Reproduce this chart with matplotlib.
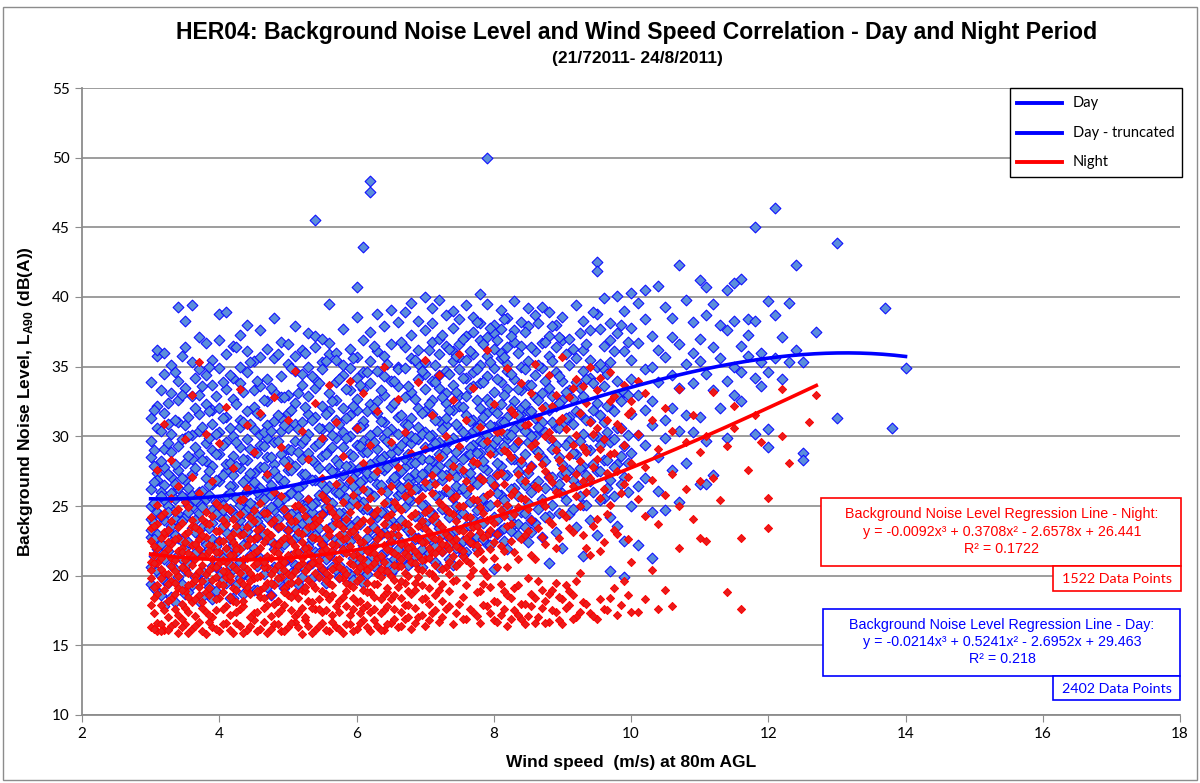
import numpy as np
import matplotlib.pyplot as plt
from matplotlib.patches import Rectangle
from matplotlib.lines import Line2D

plt.rcParams['mathtext.fontset'] = 'custom'
plt.rcParams['mathtext.bf'] = 'Liberation Sans:bold'
plt.rcParams['mathtext.rm'] = 'Liberation Sans:bold'

# wind speed (m/s) followed by the L90 readings at that speed
day_columns = [
    [3.0, 24.1, 28.5, 31.3, 20.6, 22.8, 26.2, 33.9, 19.4, 25.0, 29.7, 23.3],
    [3.1, 35.8, 21.9, 27.4, 24.6, 30.6, 18.9, 32.2, 23.0, 26.9, 20.3, 36.2],
    [3.2, 29.1, 25.4, 22.1, 34.5, 19.7, 27.8, 31.7, 24.0, 21.2, 36.0, 26.5, 17.8],
    [3.3, 23.6, 30.2, 33.1, 20.8, 27.1, 25.9, 22.4, 28.9, 18.5, 35.1, 24.8],
    [3.4, 39.3, 26.3, 31.0, 21.5, 24.4, 29.3, 19.9, 34.0, 22.7, 27.6, 32.6, 23.9],
    [3.5, 38.3, 22.0, 28.1, 25.6, 30.8, 20.4, 33.5, 26.9, 24.2, 18.7, 36.4, 29.9],
    [3.6, 39.4, 24.9, 27.3, 21.1, 32.9, 30.1, 19.3, 25.8, 23.4, 35.3, 28.4],
    [3.7, 26.0, 31.6, 22.9, 34.8, 20.1, 28.8, 24.5, 37.1, 18.2, 30.4, 25.2, 33.0],
    [3.8, 36.7, 23.7, 29.5, 21.7, 27.0, 32.3, 19.6, 25.5, 34.4, 22.3, 28.2],
    [3.9, 33.7, 24.7, 30.9, 20.7, 26.6, 35.5, 22.6, 29.0, 18.3, 27.9, 31.9, 23.8],
    [4.0, 38.8, 25.3, 28.7, 21.4, 32.0, 24.3, 34.9, 20.0, 30.3, 26.8, 22.5, 36.9],
    [4.1, 38.9, 27.5, 23.1, 31.4, 19.5, 29.6, 25.7, 33.4, 21.8, 35.9, 24.1, 28.0],
    [4.2, 26.4, 34.2, 22.2, 30.0, 20.5, 32.7, 24.6, 28.6, 36.5, 18.4, 27.2],
    [4.3, 37.3, 23.5, 29.2, 25.1, 31.2, 21.0, 33.8, 27.7, 19.8, 35.0, 24.0, 30.7],
    [4.4, 28.3, 22.8, 34.6, 26.1, 31.8, 20.2, 29.8, 24.8, 36.1, 23.2, 38.0, 27.0],
    [4.5, 35.4, 25.0, 30.5, 21.6, 27.4, 33.3, 19.0, 28.9, 24.4, 32.1, 22.0, 26.7],
    [4.6, 26.3, 31.5, 23.6, 35.7, 20.9, 29.4, 25.6, 33.6, 21.3, 27.8, 30.1, 37.6],
    [4.7, 29.9, 24.2, 34.1, 22.6, 27.1, 32.5, 19.2, 26.0, 30.8, 23.0, 36.3, 28.5],
    [4.8, 38.5, 25.9, 31.1, 21.9, 28.0, 33.2, 23.9, 35.6, 20.6, 27.5, 29.6, 24.7],
    [4.9, 30.4, 26.8, 22.4, 34.3, 24.9, 32.8, 20.3, 28.7, 36.8, 25.5, 31.3],
    [5.0, 35.2, 27.6, 23.3, 30.6, 21.2, 33.0, 25.8, 29.1, 19.6, 36.6, 24.3, 28.2, 31.7],
    [5.1, 34.7, 26.2, 22.7, 29.7, 24.6, 32.4, 20.8, 27.9, 35.8, 30.9, 23.5, 37.9],
    [5.2, 28.4, 25.1, 33.7, 21.5, 31.0, 23.8, 36.2, 26.5, 29.5, 19.9, 34.5, 27.3],
    [5.3, 37.4, 24.0, 30.2, 22.1, 27.0, 32.9, 25.4, 35.0, 20.7, 28.8, 31.6, 23.2],
    [5.4, 45.5, 26.9, 29.3, 23.7, 33.5, 21.7, 31.4, 25.2, 36.4, 28.1, 34.1, 22.9, 37.2],
    [5.5, 30.5, 24.4, 35.3, 26.6, 22.3, 32.2, 28.6, 20.5, 34.8, 25.7, 29.8, 37.0],
    [5.6, 27.7, 33.1, 23.4, 30.7, 25.3, 36.7, 21.4, 29.0, 35.9, 24.8, 31.8, 26.4, 39.5],
    [5.7, 36.0, 28.3, 24.1, 31.2, 22.6, 33.9, 26.0, 29.9, 20.4, 35.5, 27.4, 32.6],
    [5.8, 29.2, 25.6, 34.4, 23.0, 30.3, 27.2, 37.7, 21.8, 32.0, 26.3, 35.1, 24.5],
    [5.9, 33.3, 27.9, 22.5, 30.0, 25.0, 36.3, 28.7, 20.1, 31.5, 34.9, 23.6, 26.7],
    [6.0, 40.7, 26.1, 31.9, 23.9, 29.4, 34.2, 21.1, 27.5, 35.7, 25.5, 32.7, 30.6, 38.6],
    [6.1, 43.6, 28.9, 24.8, 33.4, 22.2, 30.8, 26.9, 36.9, 25.3, 29.7, 19.5, 34.6, 31.1],
    [6.2, 48.3, 47.5, 27.1, 32.3, 23.3, 35.4, 29.6, 25.9, 30.1, 21.3, 37.5, 28.0, 33.8],
    [6.3, 38.8, 30.4, 24.2, 28.3, 34.7, 22.8, 26.6, 32.5, 36.1, 20.9, 29.1, 31.7],
    [6.4, 26.2, 33.0, 29.9, 23.1, 35.8, 27.6, 31.0, 24.6, 37.9, 21.6, 28.6, 34.3],
    [6.5, 39.1, 28.8, 25.2, 32.1, 22.4, 30.5, 34.0, 26.8, 36.6, 24.0, 29.4, 20.2],
    [6.6, 31.4, 27.3, 35.0, 23.7, 29.0, 33.6, 25.8, 38.2, 21.9, 30.2, 26.5, 34.8],
    [6.7, 36.4, 29.7, 24.9, 32.8, 27.8, 22.1, 34.9, 30.9, 26.0, 38.9, 23.5, 28.4],
    [6.8, 33.2, 28.1, 39.6, 25.4, 31.3, 23.0, 35.6, 29.5, 26.9, 37.3, 21.0, 30.0],
    [6.9, 38.3, 30.7, 26.3, 34.1, 24.3, 32.0, 28.5, 36.2, 22.7, 29.8, 35.2, 27.0],
    [7.0, 40.0, 31.8, 27.4, 35.3, 25.1, 33.4, 29.2, 37.6, 23.8, 30.3, 26.4, 34.5, 21.4],
    [7.1, 39.2, 32.6, 28.2, 24.5, 36.8, 30.1, 26.7, 34.0, 22.5, 29.3, 38.1, 31.6],
    [7.2, 35.9, 29.6, 33.5, 25.7, 37.0, 27.9, 31.1, 23.4, 39.8, 28.7, 34.4, 20.6],
    [7.3, 38.7, 30.8, 27.2, 34.7, 24.7, 32.4, 29.0, 36.5, 22.9, 26.1, 33.1, 31.3],
    [7.4, 37.8, 31.9, 28.3, 35.4, 25.6, 33.7, 29.9, 39.0, 23.2, 27.5, 36.1, 20.8],
    [7.5, 36.6, 32.2, 27.7, 34.8, 30.6, 24.4, 38.4, 29.1, 26.2, 33.0, 22.0, 35.7],
    [7.6, 39.4, 31.5, 28.6, 34.2, 25.9, 37.2, 30.0, 27.3, 35.5, 23.6, 32.9, 21.7],
    [7.7, 37.5, 33.6, 29.4, 35.9, 26.8, 31.2, 24.1, 38.6, 28.0, 34.6, 30.4, 22.6],
    [7.8, 38.1, 32.0, 35.1, 27.0, 30.9, 25.3, 36.9, 29.7, 33.8, 23.9, 40.2, 28.8],
    [7.9, 50.0, 34.3, 30.1, 37.1, 27.6, 32.7, 25.0, 35.8, 29.3, 39.5, 22.3, 31.7],
    [8.0, 36.3, 33.2, 28.9, 38.0, 30.7, 26.5, 34.9, 31.9, 24.2, 37.4, 29.5, 20.5],
    [8.1, 35.6, 31.0, 37.7, 27.9, 33.9, 29.0, 39.1, 25.8, 32.3, 23.3, 36.0],
    [8.2, 38.5, 33.4, 29.8, 36.4, 27.2, 31.4, 34.7, 24.9, 30.2, 21.9, 35.2],
    [8.3, 36.8, 32.5, 39.7, 28.4, 34.1, 30.5, 26.3, 37.6, 29.2, 23.7],
    [8.4, 35.0, 31.6, 38.2, 28.1, 33.3, 26.9, 36.5, 30.8, 24.6, 32.0],
    [8.5, 37.9, 33.7, 30.3, 35.4, 27.4, 39.2, 29.6, 25.2, 31.8, 22.4],
    [8.6, 36.1, 32.8, 29.1, 38.7, 34.4, 26.6, 31.3, 23.8, 30.0],
    [8.7, 39.3, 34.9, 31.0, 36.7, 28.5, 33.1, 25.5, 30.4, 22.8],
    [8.8, 37.2, 33.5, 29.9, 35.8, 27.1, 31.9, 38.9, 24.3, 20.9],
    [8.9, 36.4, 32.2, 38.0, 29.4, 34.6, 26.2, 30.7, 23.1],
    [9.0, 38.6, 34.0, 30.9, 36.9, 28.0, 32.6, 25.9, 22.0, 27.3],
    [9.1, 37.0, 33.3, 29.7, 35.1, 27.6, 31.4, 24.4],
    [9.2, 39.4, 35.6, 31.8, 28.7, 33.9, 26.5, 23.5],
    [9.3, 36.2, 32.9, 30.2, 38.3, 27.9, 34.7, 25.1, 21.4],
    [9.4, 37.6, 34.2, 31.1, 29.0, 35.5, 26.8, 24.0],
    [9.5, 42.5, 41.9, 35.0, 32.4, 38.8, 30.0, 27.5, 22.9],
    [9.6, 39.9, 36.5, 33.6, 31.0, 28.3, 25.6, 34.8],
    [9.7, 38.1, 35.3, 32.1, 29.6, 36.9, 26.9, 24.2, 20.3],
    [9.8, 40.1, 37.4, 34.0, 30.6, 28.0, 32.9, 23.6],
    [9.9, 39.0, 36.1, 33.2, 29.3, 27.1, 22.5, 19.9],
    [10.0, 40.3, 37.8, 35.5, 31.6, 28.8, 25.0, 34.1],
    [10.1, 39.6, 36.7, 33.0, 30.1, 26.4, 22.2],
    [10.2, 40.5, 38.4, 34.8, 31.9, 29.4, 27.0],
    [10.3, 37.2, 35.0, 32.5, 24.6, 30.8, 21.3],
    [10.4, 40.8, 36.2, 33.9, 28.5, 26.1],
    [10.5, 39.3, 35.7, 31.2, 29.9, 24.7],
    [10.6, 38.5, 37.1, 34.4, 32.0, 27.6],
    [10.7, 42.3, 36.6, 33.5, 30.4, 25.3],
    [10.8, 39.8, 35.2, 31.5, 28.1],
    [10.9, 38.2, 36.0, 33.8, 30.3],
    [11.0, 41.2, 37.0, 35.4, 31.4, 26.6],
    [11.1, 40.7, 38.7, 34.5, 26.6, 29.7],
    [11.2, 39.5, 36.4, 33.3, 27.2],
    [11.3, 38.0, 35.6, 32.0],
    [11.4, 40.5, 37.6, 34.0, 29.9],
    [11.5, 41.0, 38.3, 35.0, 33.0],
    [11.6, 41.3, 36.5, 34.6, 32.5],
    [11.7, 38.4, 37.3, 35.8],
    [11.8, 45.0, 38.3, 34.2, 30.2],
    [11.9, 36.0, 35.3, 33.6],
    [12.0, 39.7, 34.6, 30.5, 29.2],
    [12.1, 46.4, 38.7, 35.6],
    [12.2, 37.1, 34.1],
    [12.3, 39.6, 35.3],
    [12.4, 42.3, 36.2],
    [12.5, 28.8, 28.3, 35.3],
    [12.7, 37.5],
    [13.0, 43.9, 31.3],
    [13.7, 39.2],
    [13.8, 30.6],
    [14.0, 34.9],
]

day_columns_mid = [
    [3.05, 21.4, 23.8, 26.7, 29.0, 31.9, 19.1, 25.2, 27.9, 22.6],
    [3.15, 20.0, 24.3, 26.0, 28.2, 30.4, 33.3, 22.3, 18.6, 25.7],
    [3.25, 21.8, 23.2, 25.0, 27.3, 29.5, 32.4, 19.5, 24.6, 30.9],
    [3.35, 20.5, 22.9, 24.1, 26.6, 28.0, 31.2, 34.6, 18.1, 25.5],
    [3.45, 21.2, 23.9, 25.7, 27.0, 29.8, 33.0, 19.4, 22.5, 35.8],
    [3.55, 20.9, 22.4, 24.6, 26.3, 28.6, 31.4, 18.8, 25.1, 30.0],
    [3.65, 21.6, 23.1, 25.4, 27.7, 29.2, 32.0, 19.9, 24.0, 34.2],
    [3.75, 20.3, 22.7, 24.9, 26.1, 28.3, 30.7, 33.6, 18.5, 23.5],
    [3.85, 21.9, 23.4, 25.8, 27.5, 29.9, 31.8, 19.2, 26.5, 35.0],
    [3.95, 20.6, 22.1, 24.4, 26.9, 28.7, 30.2, 32.9, 18.9, 25.3],
    [4.05, 21.3, 23.6, 25.1, 27.2, 29.4, 31.3, 19.7, 24.7, 33.9],
    [4.15, 20.8, 22.6, 24.8, 26.4, 28.1, 30.6, 34.4, 18.4, 25.9],
    [4.25, 21.7, 23.3, 25.6, 27.9, 29.6, 32.3, 19.3, 24.2, 36.4],
    [4.35, 20.2, 22.2, 24.5, 26.7, 28.4, 31.0, 33.2, 18.7, 25.4],
    [4.45, 21.5, 23.7, 25.2, 27.4, 29.1, 30.9, 19.8, 26.2, 35.3],
    [4.55, 20.7, 22.8, 24.3, 26.0, 28.8, 31.7, 34.0, 19.0, 23.9],
    [4.65, 21.1, 23.0, 25.5, 27.8, 29.3, 32.6, 20.1, 24.6, 30.3],
    [4.75, 20.4, 22.5, 24.9, 26.5, 28.5, 30.4, 33.5, 18.6, 25.8],
    [4.85, 21.8, 23.5, 25.3, 27.1, 29.7, 31.5, 19.6, 24.1, 35.9],
    [4.95, 21.0, 22.3, 24.7, 26.8, 28.2, 30.8, 32.8, 19.1, 25.6],
    [5.05, 21.4, 23.8, 25.9, 27.6, 29.0, 31.9, 34.9, 20.2, 24.4],
    [5.15, 20.6, 22.9, 24.2, 26.3, 28.9, 30.5, 33.1, 19.4, 25.7],
    [5.25, 21.9, 23.2, 25.0, 27.3, 29.8, 32.1, 20.5, 24.8, 36.0],
    [5.35, 20.9, 22.6, 24.6, 26.9, 28.3, 31.2, 34.3, 19.8, 25.1],
    [5.45, 21.6, 23.4, 25.8, 27.7, 29.5, 30.6, 33.8, 20.0, 24.3],
    [5.55, 21.2, 22.8, 24.9, 26.2, 28.7, 31.6, 35.4, 19.5, 25.5],
    [5.65, 21.7, 23.6, 25.2, 27.5, 29.2, 32.5, 20.6, 24.7, 30.1],
    [5.75, 20.8, 22.4, 24.5, 26.6, 28.0, 30.9, 34.1, 19.9, 25.9],
    [5.85, 22.0, 23.9, 25.6, 27.9, 29.9, 31.3, 33.4, 20.3, 24.2],
    [5.95, 21.3, 23.1, 25.4, 27.0, 28.6, 32.2, 35.6, 19.7, 26.4],
    [6.05, 21.8, 23.7, 25.0, 26.7, 29.3, 30.7, 33.7, 20.4, 27.8],
    [6.15, 21.0, 22.7, 24.8, 27.4, 28.9, 31.8, 34.6, 20.1, 26.1],
    [6.25, 22.2, 23.5, 25.7, 27.2, 29.6, 32.0, 36.5, 20.7, 24.4],
    [6.35, 21.5, 23.0, 24.6, 26.5, 28.4, 31.1, 33.3, 20.2, 27.7],
    [6.45, 22.1, 23.8, 25.3, 27.8, 29.7, 30.3, 35.2, 20.9, 26.0],
    [6.55, 21.2, 22.9, 24.9, 26.8, 28.2, 32.4, 34.0, 20.5, 27.1],
    [6.65, 22.4, 24.0, 25.9, 27.5, 29.4, 31.5, 36.8, 21.1, 26.3],
    [6.75, 21.7, 23.3, 25.5, 27.0, 28.7, 30.8, 33.6, 20.8, 26.6],
    [6.85, 22.6, 24.3, 26.2, 28.1, 29.9, 32.7, 35.5, 21.4, 27.4],
    [6.95, 21.9, 23.6, 25.1, 27.3, 30.2, 31.7, 34.7, 20.6, 28.4],
    [7.05, 22.8, 24.6, 26.5, 28.3, 30.0, 32.3, 36.2, 21.6, 27.7],
    [7.15, 22.1, 23.9, 25.8, 27.6, 29.5, 31.2, 33.9, 21.0, 35.1],
    [7.25, 23.0, 24.8, 26.9, 28.6, 30.5, 32.8, 37.3, 21.8, 27.2],
    [7.35, 22.3, 24.2, 26.0, 28.0, 29.7, 31.9, 34.5, 21.2, 36.3],
    [7.45, 23.3, 25.0, 27.1, 28.9, 30.9, 33.2, 35.8, 22.0, 26.4],
    [7.55, 22.5, 24.5, 26.3, 28.4, 30.3, 32.1, 37.0, 21.5, 34.2],
    [7.65, 23.6, 25.3, 27.4, 29.2, 31.1, 33.5, 36.1, 22.4, 28.7],
    [7.75, 22.8, 24.7, 26.6, 28.8, 30.6, 32.6, 34.8, 21.9, 38.2],
    [7.85, 23.8, 25.6, 27.8, 29.5, 31.4, 33.9, 36.6, 22.6, 28.2],
    [7.95, 23.1, 25.1, 26.9, 29.0, 30.8, 32.4, 35.3, 22.2, 37.8],
    [8.05, 24.0, 25.9, 28.1, 29.8, 31.7, 34.1, 36.9, 23.0, 27.3],
    [8.15, 23.4, 25.4, 27.2, 29.3, 31.0, 33.0, 35.7, 22.5, 38.4],
    [8.25, 24.3, 26.2, 28.4, 30.1, 32.0, 34.5, 37.2, 23.2],
    [8.35, 23.7, 25.7, 27.5, 29.6, 31.5, 33.4, 36.0, 22.9],
    [8.45, 24.5, 26.5, 28.7, 30.4, 32.3, 34.8, 37.5, 23.5],
    [8.55, 24.0, 26.0, 27.9, 30.0, 31.8, 33.7, 36.4, 23.1],
    [8.65, 24.8, 26.8, 28.9, 30.7, 32.6, 35.1, 38.1],
    [8.75, 24.2, 26.3, 28.2, 30.3, 32.1, 34.0, 36.8],
    [8.85, 25.1, 27.1, 29.1, 31.0, 32.9, 35.4, 37.9],
    [8.95, 24.5, 26.6, 28.5, 30.6, 32.4, 34.3, 37.1],
    [9.05, 25.4, 27.4, 29.4, 31.3, 33.2, 35.9],
    [9.15, 24.8, 26.9, 28.8, 30.9, 32.7, 36.3],
    [9.25, 25.7, 27.7, 29.7, 31.6, 33.5, 37.4],
    [9.35, 25.1, 27.2, 29.1, 31.2, 34.1, 36.6],
    [9.45, 26.0, 28.0, 30.0, 31.9, 33.8, 38.9],
    [9.55, 25.4, 27.5, 29.4, 31.5, 35.2, 37.7],
    [9.65, 26.3, 28.3, 30.3, 32.2, 34.5],
    [9.75, 25.7, 27.8, 29.8, 31.8, 36.1],
    [9.85, 26.6, 28.6, 30.6, 32.5, 38.0],
    [9.95, 26.0, 28.1, 30.1, 33.0, 36.8],
]

night_columns = [
    [3.0, 16.3, 19.8, 22.5, 24.2, 21.0, 17.9, 23.4, 20.4],
    [3.1, 16.6, 18.7, 22.0, 25.1, 20.9, 23.7, 19.3, 16.0, 27.6],
    [3.2, 16.1, 21.6, 19.0, 24.5, 22.9, 17.5, 20.2, 23.1, 30.9],
    [3.3, 16.4, 20.7, 18.3, 23.9, 21.3, 25.6, 19.6, 22.3, 28.3],
    [3.4, 15.9, 17.2, 22.7, 20.0, 24.8, 19.1, 21.8, 23.5, 26.4],
    [3.5, 16.5, 18.9, 21.1, 23.0, 25.3, 20.5, 17.7, 22.4, 29.8],
    [3.6, 16.2, 19.5, 22.2, 24.0, 20.8, 18.1, 23.6, 21.4, 33.0, 27.1],
    [3.7, 16.7, 20.3, 18.6, 23.3, 21.9, 25.9, 19.2, 22.6, 35.3],
    [3.8, 15.8, 17.4, 21.5, 24.6, 20.1, 22.8, 18.8, 23.8, 30.2],
    [3.9, 16.3, 19.7, 22.1, 20.6, 24.3, 17.0, 21.2, 26.8],
    [4.0, 16.0, 18.4, 20.9, 23.2, 25.0, 19.4, 22.5, 21.7, 29.5],
    [4.1, 16.6, 17.8, 21.0, 23.7, 19.9, 22.0, 24.9, 20.3, 32.1],
    [4.2, 15.9, 19.1, 22.4, 20.7, 24.1, 18.2, 23.0, 21.5, 27.7],
    [4.3, 16.4, 17.6, 20.2, 22.9, 25.4, 19.6, 21.9, 24.4, 33.4],
    [4.4, 16.1, 18.9, 21.3, 23.5, 20.5, 22.2, 19.2, 26.3, 30.8],
    [4.5, 16.8, 17.3, 20.8, 24.7, 22.6, 19.8, 21.6, 23.9, 28.9],
    [4.6, 16.2, 18.5, 22.0, 20.0, 23.4, 21.1, 25.2, 19.0, 31.7],
    [4.7, 15.9, 17.9, 21.4, 23.1, 19.5, 24.5, 22.7, 20.6, 27.3],
    [4.8, 16.5, 19.3, 20.4, 22.3, 24.0, 18.0, 21.8, 26.0, 32.8],
    [4.9, 16.0, 17.5, 21.2, 23.6, 19.9, 22.5, 25.7, 20.8, 29.2],
    [5.0, 16.3, 18.6, 20.1, 22.8, 24.3, 21.5, 19.4, 23.3, 31.2, 27.9],
    [5.1, 16.7, 17.1, 21.7, 23.9, 20.3, 22.1, 25.0, 18.8, 34.7],
    [5.2, 15.8, 19.0, 22.4, 20.9, 24.8, 21.3, 23.0, 17.7, 30.4],
    [5.3, 16.4, 18.2, 20.6, 23.5, 22.0, 25.5, 19.7, 21.6, 28.4],
    [5.4, 16.1, 17.6, 21.0, 24.1, 22.7, 20.2, 23.7, 19.1, 32.4],
    [5.5, 16.6, 18.9, 20.5, 22.3, 25.8, 21.8, 24.4, 17.4, 29.9, 27.0],
    [5.6, 16.0, 19.5, 21.4, 23.2, 20.0, 22.9, 24.9, 18.3, 33.7],
    [5.7, 16.3, 17.8, 22.2, 20.7, 24.2, 21.1, 23.8, 26.6, 31.0],
    [5.8, 15.9, 18.5, 21.9, 23.4, 19.8, 22.6, 25.3, 20.4, 28.6],
    [5.9, 16.5, 17.2, 20.9, 24.6, 22.1, 19.3, 23.1, 26.9, 34.0],
    [6.0, 16.2, 18.1, 21.5, 23.6, 20.3, 22.8, 25.1, 19.6, 30.6],
    [6.1, 16.8, 17.7, 20.8, 24.0, 22.4, 21.2, 26.2, 19.0, 33.1, 28.1],
    [6.2, 16.0, 18.8, 22.0, 20.6, 23.9, 25.6, 21.7, 17.4, 29.4],
    [6.3, 16.4, 19.4, 21.3, 23.3, 24.7, 20.1, 22.6, 27.5, 31.8],
    [6.4, 16.1, 17.5, 20.4, 22.2, 25.2, 23.7, 21.0, 18.6, 35.0],
    [6.5, 16.6, 18.3, 21.8, 23.0, 24.4, 20.0, 26.4, 22.5, 29.6],
    [6.6, 16.3, 19.2, 20.7, 22.9, 24.9, 21.4, 23.5, 27.8, 32.7],
    [6.7, 16.9, 17.9, 21.6, 23.8, 20.2, 25.7, 22.3, 19.5, 30.3],
    [6.8, 16.2, 18.7, 22.1, 24.3, 21.0, 23.2, 26.0, 28.8],
    [6.9, 17.0, 19.9, 21.5, 23.6, 25.4, 22.7, 20.5, 33.9],
    [7.0, 16.4, 18.4, 22.4, 24.6, 21.2, 23.4, 26.7, 29.1, 35.5],
    [7.1, 17.3, 20.1, 22.8, 24.1, 21.7, 25.9, 27.2, 31.5],
    [7.2, 16.7, 19.0, 21.9, 23.7, 25.3, 22.6, 28.5, 34.4],
    [7.3, 17.6, 20.6, 23.0, 24.8, 22.2, 26.3, 30.0],
    [7.4, 16.5, 19.6, 22.5, 24.4, 21.4, 25.6, 27.9, 32.6],
    [7.5, 18.0, 20.9, 23.3, 22.0, 25.0, 29.3, 35.9],
    [7.6, 16.9, 19.3, 22.7, 24.2, 26.8, 21.1, 31.2],
    [7.7, 17.4, 20.4, 23.5, 25.5, 22.3, 28.2, 33.5],
    [7.8, 16.6, 18.9, 21.8, 24.9, 23.1, 27.0, 30.7],
    [7.9, 17.8, 20.0, 22.9, 25.8, 24.0, 29.7, 36.2],
    [8.0, 16.8, 18.2, 21.3, 23.8, 26.5, 22.4, 32.3],
    [8.1, 17.2, 19.4, 22.1, 24.7, 27.4, 30.4],
    [8.2, 16.4, 18.6, 20.6, 25.1, 23.6, 28.9, 34.9],
    [8.3, 17.5, 19.1, 21.7, 24.4, 26.1, 31.6],
    [8.4, 16.9, 18.0, 22.6, 25.6, 28.3, 33.8],
    [8.5, 17.1, 19.8, 23.2, 24.8, 27.6, 30.9],
    [8.6, 16.6, 18.4, 21.2, 26.4, 29.5, 35.2],
    [8.7, 17.7, 19.0, 22.8, 25.3, 28.0, 32.0],
    [8.8, 16.7, 18.7, 23.9, 27.1, 30.3, 34.4],
    [8.9, 17.4, 19.5, 22.0, 26.0, 29.0, 33.0],
    [9.0, 16.5, 18.3, 24.5, 27.7, 31.3, 35.7],
    [9.1, 17.9, 18.9, 23.4, 28.6, 32.8],
    [9.2, 17.0, 19.6, 25.7, 27.3, 30.1, 34.1],
    [9.3, 18.1, 22.9, 26.8, 29.2, 33.6],
    [9.4, 17.3, 21.5, 27.0, 31.0, 35.0],
    [9.5, 16.9, 24.1, 28.4, 30.6, 33.3],
    [9.6, 17.6, 22.4, 26.2, 29.8],
    [9.7, 18.4, 25.1, 28.7, 32.5, 34.6],
    [9.8, 17.2, 23.0, 27.5, 30.9],
    [9.9, 19.6, 26.6, 29.4, 33.7],
    [10.0, 17.4, 21.0, 28.1, 31.8, 32.5],
    [10.1, 17.4, 25.5, 30.2, 34.0],
    [10.2, 18.3, 24.3, 27.8, 33.1],
    [10.3, 20.4, 26.9, 31.2],
    [10.4, 17.6, 23.7, 29.1],
    [10.5, 19.0, 25.8, 32.0],
    [10.6, 17.8, 27.3, 30.4],
    [10.7, 22.0, 25.0, 33.4],
    [10.8, 26.2, 29.6],
    [10.9, 24.1, 31.5],
    [11.0, 22.7, 26.8, 28.9],
    [11.1, 22.5, 30.0],
    [11.2, 27.0, 33.2],
    [11.3, 25.4],
    [11.4, 18.8, 29.3],
    [11.5, 30.6, 32.2],
    [11.6, 17.6, 22.7],
    [11.7, 27.6],
    [11.8, 31.5],
    [11.9, 29.6],
    [12.0, 25.6, 23.4],
    [12.2, 33.4, 30.0],
    [12.3, 28.1],
    [12.6, 31.0],
    [12.7, 33.0],
]

night_columns_mid = [
    [3.05, 16.2, 17.3, 19.2, 20.9, 22.1, 23.6, 18.4, 21.5],
    [3.15, 16.5, 17.9, 19.8, 21.3, 22.7, 24.3, 20.5, 16.0],
    [3.25, 16.1, 18.2, 20.1, 21.9, 23.3, 19.4, 22.4, 17.0],
    [3.35, 16.6, 17.6, 19.5, 21.1, 22.6, 24.6, 20.3, 18.7],
    [3.45, 16.3, 18.0, 20.6, 22.0, 23.8, 19.0, 21.7, 16.9],
    [3.55, 15.9, 17.4, 19.3, 21.6, 23.1, 24.9, 20.2, 18.5],
    [3.65, 16.4, 18.3, 20.0, 22.3, 23.5, 19.7, 21.2, 17.1],
    [3.75, 16.0, 17.7, 19.6, 21.4, 22.9, 24.1, 20.8, 18.1],
    [3.85, 16.7, 18.6, 20.4, 22.2, 23.7, 19.1, 21.8, 17.2],
    [3.95, 16.2, 17.5, 19.9, 21.7, 23.2, 25.2, 20.6, 18.3],
    [4.05, 16.5, 18.8, 20.3, 22.5, 24.0, 19.3, 21.1, 17.6],
    [4.15, 16.1, 17.2, 19.7, 21.5, 22.8, 24.7, 20.0, 18.5],
    [4.25, 16.6, 18.1, 20.5, 22.1, 23.6, 19.0, 21.9, 17.4],
    [4.35, 15.9, 17.8, 19.4, 21.2, 23.0, 25.5, 20.7, 18.2],
    [4.45, 16.4, 18.7, 20.2, 22.6, 24.2, 19.6, 21.4, 17.0],
    [4.55, 16.0, 17.4, 19.9, 21.8, 23.3, 20.9, 18.9, 22.8],
    [4.65, 16.7, 18.4, 20.6, 22.4, 24.5, 19.2, 21.0, 17.7],
    [4.75, 16.2, 17.1, 19.5, 21.3, 22.9, 20.1, 18.6, 23.8],
    [4.85, 16.5, 18.2, 20.8, 22.2, 23.5, 19.8, 21.6, 17.3],
    [4.95, 16.0, 17.9, 19.1, 21.0, 22.7, 24.8, 20.4, 18.8],
    [5.05, 16.6, 18.5, 20.0, 22.5, 23.9, 19.5, 21.3, 17.5],
    [5.15, 16.3, 17.3, 19.6, 21.7, 23.1, 25.1, 20.7, 18.4],
    [5.25, 16.8, 18.9, 20.3, 22.0, 24.3, 19.2, 21.5, 17.0],
    [5.35, 15.9, 17.7, 19.4, 21.4, 22.8, 20.9, 18.1, 23.6],
    [5.45, 16.4, 18.3, 20.8, 22.6, 24.0, 19.9, 21.1, 17.6],
    [5.55, 16.1, 17.5, 19.7, 21.9, 23.4, 25.4, 20.2, 18.7],
    [5.65, 16.7, 18.6, 20.5, 22.3, 24.6, 19.3, 21.8, 17.2],
    [5.75, 16.2, 17.4, 19.8, 21.2, 22.9, 20.6, 18.2, 23.7],
    [5.85, 16.5, 18.9, 20.1, 22.7, 24.1, 19.5, 21.6, 17.8],
    [5.95, 16.0, 17.6, 19.2, 21.5, 23.2, 25.8, 20.8, 18.4],
    [6.05, 16.6, 18.2, 20.6, 22.4, 23.8, 19.8, 21.3, 17.3],
    [6.15, 16.3, 17.9, 19.5, 21.8, 23.3, 24.9, 20.4, 18.8],
    [6.25, 16.8, 18.5, 20.9, 22.1, 24.4, 19.4, 21.6, 17.6],
    [6.35, 16.1, 17.3, 19.9, 21.4, 23.0, 26.1, 20.5, 18.3],
    [6.45, 16.5, 18.8, 20.3, 22.9, 24.2, 19.1, 21.9, 17.8],
    [6.55, 16.9, 17.6, 19.7, 21.6, 23.5, 25.3, 20.8, 18.6],
    [6.65, 16.4, 18.4, 20.7, 22.3, 24.7, 19.6, 21.2, 17.4],
    [6.75, 17.0, 17.9, 20.0, 22.0, 23.7, 26.4, 21.4, 18.9],
    [6.85, 16.6, 19.0, 20.9, 22.7, 24.5, 19.5, 21.8, 17.7],
    [6.95, 17.2, 18.3, 20.4, 22.4, 23.9, 25.7, 21.1, 19.3],
    [7.05, 16.8, 19.1, 21.3, 23.1, 24.8, 20.2, 22.0, 18.0],
    [7.15, 17.5, 18.6, 20.8, 22.6, 24.3, 26.6, 21.6, 19.8],
    [7.25, 17.0, 19.4, 21.7, 23.5, 25.1, 20.5, 22.3, 18.2],
    [7.35, 17.8, 18.9, 21.0, 22.8, 24.6, 27.1, 21.9, 20.1],
    [7.45, 17.3, 19.7, 22.1, 23.9, 25.7, 20.7, 22.6],
    [7.55, 16.9, 18.5, 21.4, 23.2, 25.0, 27.6, 21.8],
    [7.65, 17.6, 20.0, 22.4, 24.2, 26.3, 20.9, 23.0],
    [7.75, 17.1, 18.8, 21.6, 23.6, 25.4, 28.1, 22.2],
    [7.85, 17.9, 20.3, 22.8, 24.5, 26.9, 21.2, 19.4],
    [7.95, 17.3, 19.2, 21.9, 24.1, 25.9, 28.7, 23.3],
    [8.05, 16.7, 18.1, 20.6, 23.0, 25.2, 27.2, 30.3],
    [8.15, 17.6, 18.9, 21.8, 24.3, 26.6, 29.0],
    [8.25, 16.9, 18.4, 22.5, 23.7, 25.8, 28.5, 31.9],
    [8.35, 17.2, 19.3, 21.2, 24.9, 27.3, 29.7],
    [8.45, 16.5, 18.0, 22.9, 25.5, 26.8, 30.8],
    [8.55, 17.8, 18.7, 21.5, 24.0, 27.9, 29.3, 33.1],
    [8.65, 17.0, 19.6, 23.4, 26.3, 28.6, 31.4],
    [8.75, 16.6, 18.2, 22.3, 25.0, 27.5, 30.0],
    [8.85, 17.5, 19.0, 23.7, 26.7, 29.8, 32.2],
    [8.95, 16.8, 18.5, 22.7, 25.9, 28.3, 31.1],
    [9.05, 17.7, 19.3, 24.2, 27.0, 30.5],
    [9.15, 16.9, 18.6, 23.1, 26.4, 29.4, 33.5],
    [9.25, 17.4, 20.2, 25.0, 28.2, 31.7],
    [9.35, 18.0, 22.0, 26.0, 28.9, 32.4],
    [9.45, 17.1, 23.6, 27.8, 30.2],
    [9.55, 18.3, 21.8, 25.6, 29.1, 34.2],
    [9.65, 17.5, 24.4, 27.4, 31.2],
    [9.75, 19.1, 23.3, 28.8, 32.9],
    [9.85, 17.9, 25.9, 30.5],
    [9.95, 18.6, 22.6, 27.1, 31.6],
]

# regression coefficients shown on the chart (x^3, x^2, x, 1)
day_coef = [-0.0214, 0.5241, -2.6952, 29.463]
night_coef = [-0.0092, 0.3708, -2.6578, 26.441]
day_range = [3.0, 14.0]
night_range = [3.0, 12.7]
day_r2 = '0.218'
night_r2 = '0.1722'
day_count = 2402
night_count = 1522

x_ticks = [2, 4, 6, 8, 10, 12, 14, 16, 18]
y_ticks = [10, 15, 20, 25, 30, 35, 40, 45, 50, 55]
legend_labels = ['Day', 'Day - truncated', 'Night']


def flatten(*groups):
    xs, ys = [], []
    for cols in groups:
        for c in cols:
            xs += [c[0]] * (len(c) - 1)
            ys += c[1:]
    return xs, ys


day_x, day_y = flatten(day_columns, day_columns_mid)
night_x, night_y = flatten(night_columns, night_columns_mid)

W, H = 1200, 783
fig = plt.figure(figsize=(W / 100, H / 100), dpi=100)
ax = fig.add_axes([82 / W, 1 - 715 / H, (1180 - 82) / W, (715 - 88) / H])

ax.scatter(day_x, day_y, marker='D', s=30, facecolor='#5b8edb', edgecolor='#1010ff',
           linewidths=0.8, zorder=2)
ax.scatter(night_x, night_y, marker='D', s=17, facecolor='#e81c1c', edgecolor='#ff0000',
           linewidths=0.7, zorder=3)

xd = np.linspace(day_range[0], day_range[1], 200)
xn = np.linspace(night_range[0], night_range[1], 200)
ax.plot(xd, np.polyval(day_coef, xd), color='#0000ff', lw=2.6, zorder=4)
ax.plot(xn, np.polyval(night_coef, xn), color='#ff0000', lw=2.6, zorder=4)

ax.set_xlim(2, 18)
ax.set_ylim(10, 55)
ax.set_xticks(x_ticks)
ax.set_yticks(y_ticks)
ax.yaxis.grid(True, color='#8c8c8c', lw=1.2)
ax.set_axisbelow(True)
for s in ['top', 'right']:
    ax.spines[s].set_visible(False)
for s in ['left', 'bottom']:
    ax.spines[s].set_color('#8c8c8c')
    ax.spines[s].set_linewidth(1.3)
ax.tick_params(direction='out', length=5, color='#8c8c8c', labelsize=11, pad=4)
for lab in ax.get_xticklabels() + ax.get_yticklabels():
    lab.set_family('Lato')

ax.set_xlabel('Wind speed  (m/s) at 80m AGL', family='Liberation Sans',
              weight='bold', fontsize=12.5, labelpad=10)
ax.set_ylabel(r'Background Noise Level, L$_{\mathbf{A90}}$ (dB(A))',
              family='Liberation Sans', weight='bold', fontsize=12.5, labelpad=12)

fig.text(637 / W, 1 - 33 / H,
         'HER04: Background Noise Level and Wind Speed Correlation - Day and Night Period',
         ha='center', va='center', family='Liberation Sans',
         weight='bold', fontsize=16.6)
fig.text(637 / W, 1 - 58 / H, '(21/72011- 24/8/2011)', ha='center', va='center',
         family='Liberation Sans', weight='bold', fontsize=12.5)


def box(x0, y0, x1, y1, color, lw=1.2):
    fig.add_artist(Rectangle((x0 / W, 1 - y1 / H), (x1 - x0) / W, (y1 - y0) / H,
                             transform=fig.transFigure, facecolor='white',
                             edgecolor=color, lw=lw, zorder=5))


def ftext(x, y, s, color, **kw):
    fig.text(x / W, 1 - y / H, s, color=color, ha='center', va='center', zorder=6, **kw)


# outer chart border
fig.add_artist(Rectangle((3 / W, 3 / H), (W - 6) / W, (H - 10) / H,
                         transform=fig.transFigure, fill=False,
                         edgecolor='#8c8c8c', lw=1.0, zorder=0))

# night regression box
red = '#ff0000'
box(821, 498, 1181, 566, red)
ftext(1002, 514, 'Background Noise Level Regression Line - Night:', red,
      family='Liberation Sans', fontsize=10.3)
ftext(1002, 532, 'y = -0.0092x\u00b3 + 0.3708x\u00b2 - 2.6578x + 26.441', red,
      family='Liberation Sans', fontsize=10.3)
ftext(1002, 549, 'R\u00b2 = ' + night_r2, red, family='Liberation Sans', fontsize=10.3)
box(1053, 566, 1181, 591, red)
ftext(1117, 579, f'{night_count} Data Points', red, family='Lato', fontsize=10.3)

# day regression box
blue = '#0000ff'
box(823, 609, 1180, 676, blue)
ftext(1002, 625, 'Background Noise Level Regression Line - Day:', blue,
      family='Liberation Sans', fontsize=10.3)
ftext(1002, 642, 'y = -0.0214x\u00b3 + 0.5241x\u00b2 - 2.6952x + 29.463', blue,
      family='Liberation Sans', fontsize=10.3)
ftext(1002, 659, 'R\u00b2 = ' + day_r2, blue, family='Liberation Sans', fontsize=10.3)
box(1053, 676, 1180, 700, blue)
ftext(1117, 689, f'{day_count} Data Points', blue, family='Lato', fontsize=10.3)

# legend
box(1010, 88, 1182, 177, '#000000', lw=1.0)
legend_colors = ['#0000ff', '#0000ff', '#ff0000']
legend_y = [103, 133, 162]
for lab, col, ly in zip(legend_labels, legend_colors, legend_y):
    fig.add_artist(Line2D([1017 / W, 1062 / W], [1 - ly / H, 1 - ly / H],
                          transform=fig.transFigure, color=col, lw=2.8, zorder=6))
    fig.text(1073 / W, 1 - ly / H, lab, ha='left', va='center', family='Lato',
             fontsize=10.5, zorder=6)

fig.savefig('out.png', dpi=100)
